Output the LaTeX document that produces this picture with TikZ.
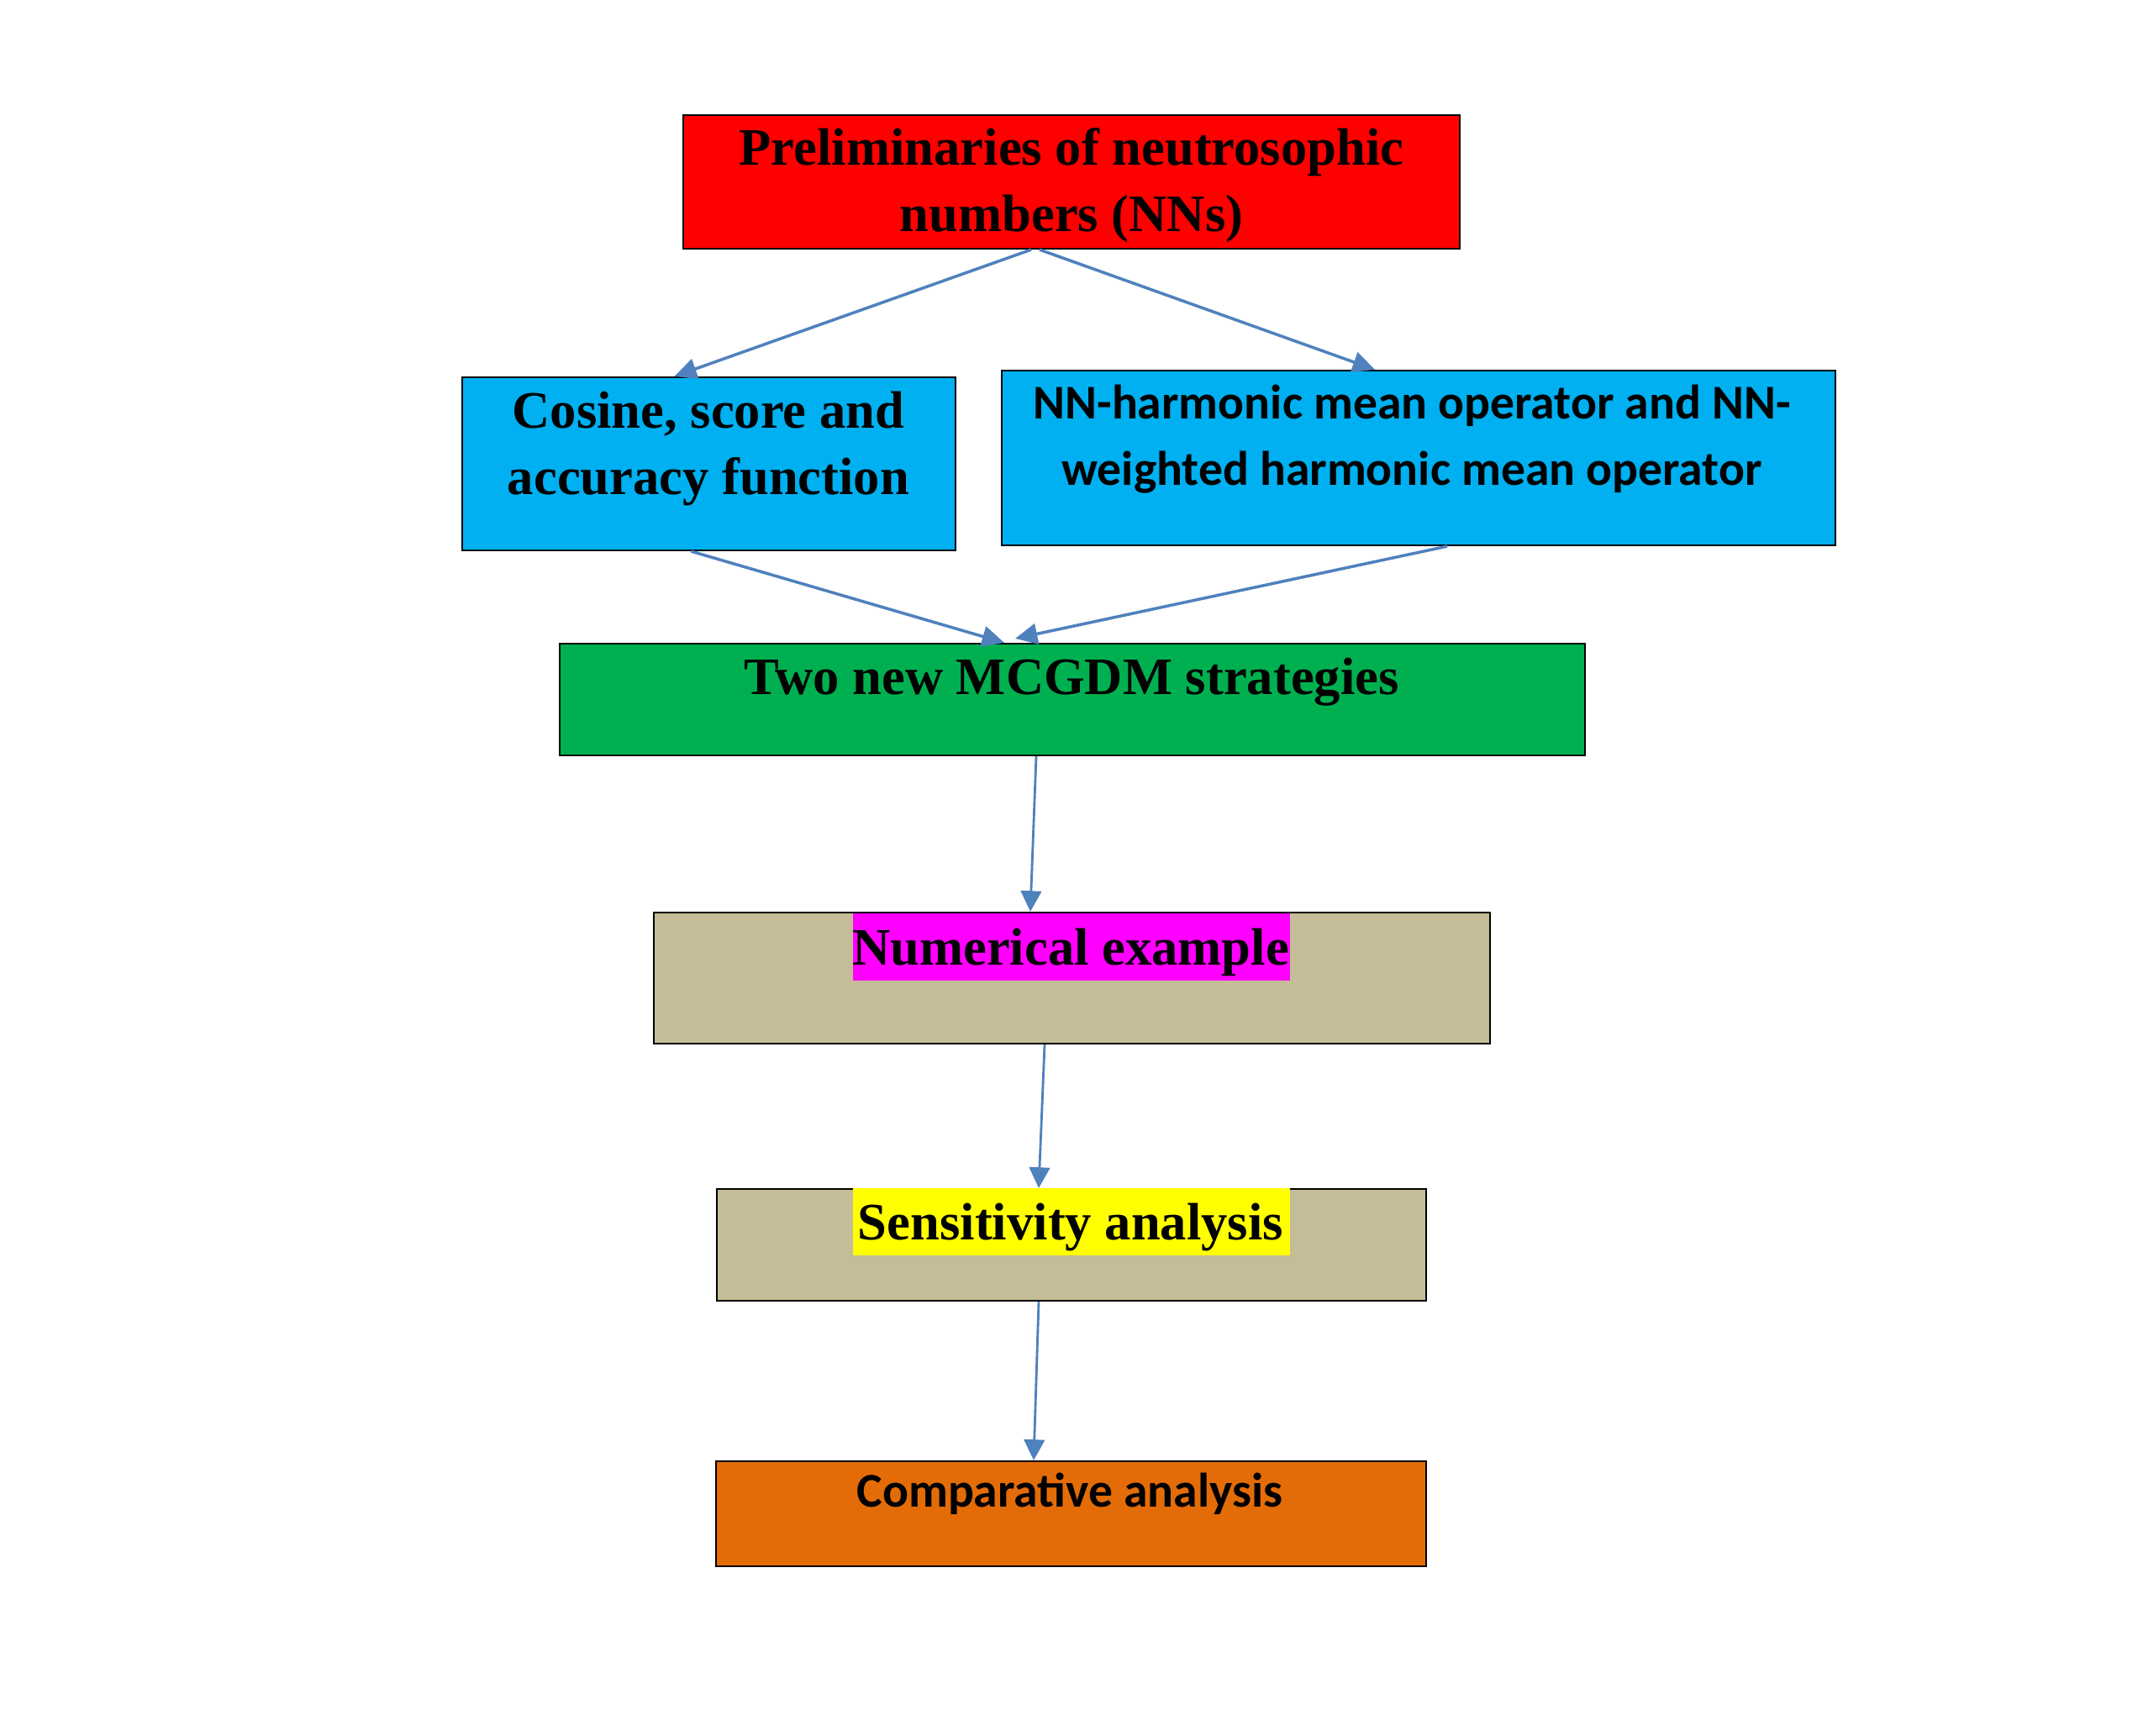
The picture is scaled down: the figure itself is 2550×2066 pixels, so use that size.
\documentclass[tikz,border=0pt]{standalone}
\usepackage{fontspec}
\setmainfont{Liberation Serif}
\newfontfamily\calib{Carlito}
\usetikzlibrary{arrows.meta,calc}
\definecolor{redc}{HTML}{FF0000}
\definecolor{bluec}{HTML}{00B0F0}
\definecolor{greenc}{HTML}{00B050}
\definecolor{tanc}{HTML}{C4BD97}
\definecolor{magc}{HTML}{FF00FF}
\definecolor{yelc}{HTML}{FFFF00}
\definecolor{orac}{HTML}{E36C09}
\definecolor{arrowblue}{HTML}{4F81BD}
\begin{document}
\begin{tikzpicture}[x=0.01cm,y=-0.01cm,
 box/.style={draw=black, line width=0.6pt, inner sep=0pt, rectangle},
 serif/.style={font=\fontsize{17.8}{22.3}\selectfont\bfseries, inner sep=0pt, anchor=base, align=center},
 sans/.style={font=\calib\fontsize{16.4}{22.4}\selectfont\bfseries, inner sep=0pt, anchor=base, align=center},
 hl/.style={inner xsep=0pt, inner ysep=0pt, minimum width=5.2cm, text height=0.61cm, text depth=0.19cm, anchor=base},
 conn/.style={draw=arrowblue, line width=1pt, -{Triangle[length=7.5pt,width=7pt]}},
 connv/.style={draw=arrowblue, line width=0.8pt, -{Triangle[length=7pt,width=7pt]}},
]
\useasboundingbox[fill=white] (0,0) rectangle (2550,2066);

% boxes
\node[box, fill=redc, minimum width=9.24cm, minimum height=1.59cm] (red) at (1275,216.5) {};
\node[box, fill=bluec, minimum width=5.87cm, minimum height=2.06cm] (cos) at (843.5,552) {};
\node[box, fill=bluec, minimum width=9.92cm, minimum height=2.08cm] (nnh) at (1688,545) {};
\node[box, fill=greenc, minimum width=12.20cm, minimum height=1.33cm] (grn) at (1276,832.5) {};
\node[box, fill=tanc, minimum width=9.95cm, minimum height=1.56cm] (num) at (1275.5,1164) {};
\node[box, fill=tanc, minimum width=8.44cm, minimum height=1.33cm] (sen) at (1275,1481.5) {};
\node[box, fill=orac, minimum width=8.45cm, minimum height=1.25cm] (cmp) at (1274.5,1801.5) {};

% highlights
\node[hl, fill=magc] (numhl) at (1275,1148) {};
\node[hl, fill=yelc] (senhl) at (1275,1475) {};

% texts (base anchor = baseline of the last line)
\node[serif] (redt) at (1275,275) {Preliminaries of neutrosophic\\numbers (NNs)};
\node[serif] (cost) at (843,588) {Cosine, score and\\accuracy function};
\node[sans] (nnht) at (1680,577) {NN-harmonic mean operator and NN-\\weighted harmonic mean operator};
\node[serif] (grnt) at (1275,826) {Two new MCGDM strategies};
\node[serif] (numt) at (1274,1148) {Numerical example};
\node[serif] (sent) at (1274,1475) {Sensitivity analysis};
\node[sans] (cmpt) at (1273,1793) {Comparative analysis};

% connectors
\draw[conn] ($(red.south)+(-48,0)$) -- ($(cos.north)+(-41,0)$);
\draw[conn] ($(red.south)+(-38,0)$) -- ($(nnh.north)+(-52,0)$);
\draw[conn] ($(cos.south)+(-21,0)$) -- ($(grn.north)+(-81,0)$);
\draw[conn] ($(nnh.south)+(34,0)$) -- ($(grn.north)+(-68,-5)$);
\draw[connv] ($(grn.south)+(-43,0)$) -- ($(num.north)+(-49.5,0)$);
\draw[connv] ($(num.south)+(-32.5,0)$) -- ($(sen.north)+(-39,0)$);
\draw[connv] ($(sen.south)+(-39,0)$) -- ($(cmp.north)+(-44.5,0)$);
\end{tikzpicture}
\end{document}
